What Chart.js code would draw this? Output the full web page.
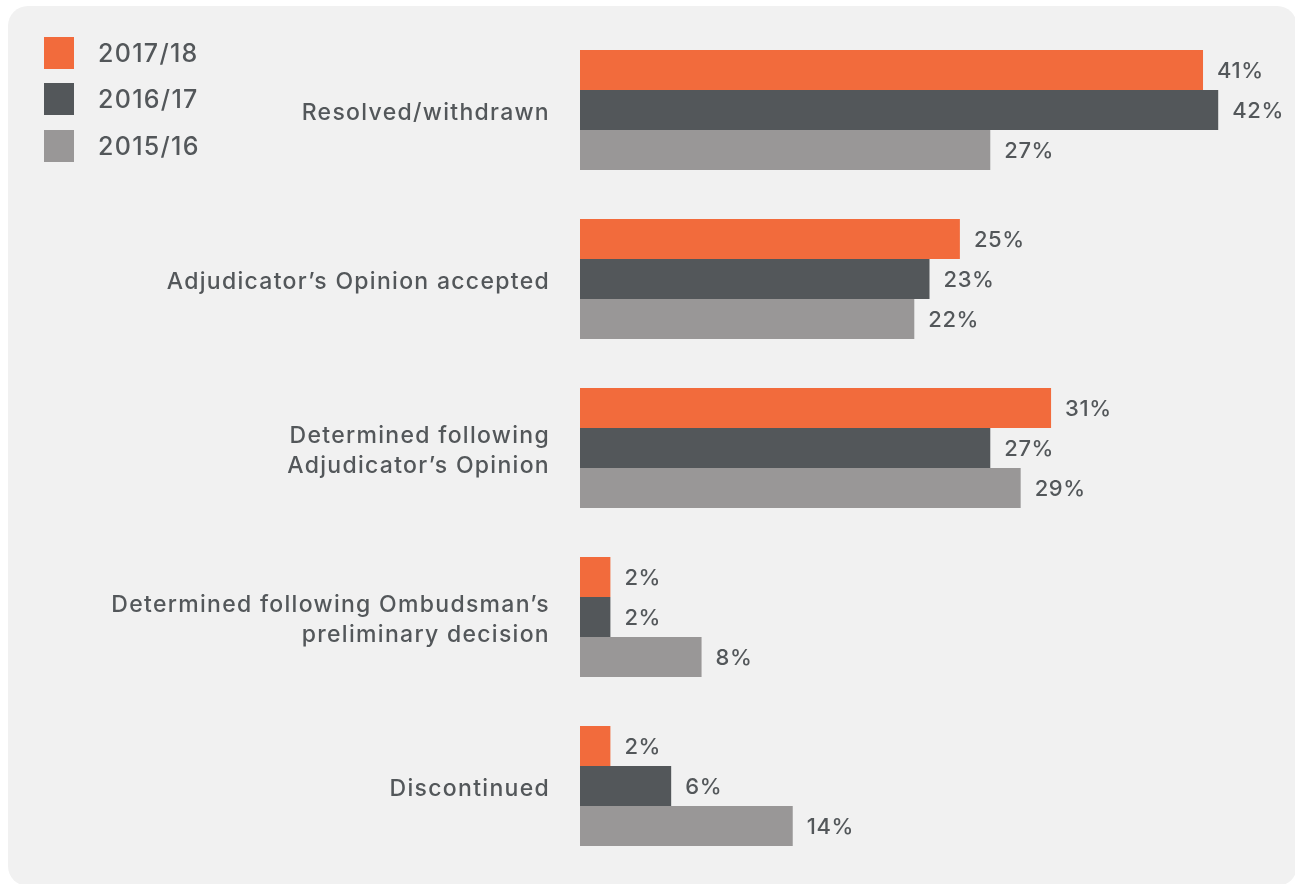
<!DOCTYPE html>
<html>
<head>
<meta charset="utf-8">
<script src="https://cdn.jsdelivr.net/npm/chart.js@4"></script>
<style>
  html,body{margin:0;padding:0;background:#ffffff;}
  body{width:1295px;height:884px;position:relative;overflow:hidden;font-family:Inter,"DejaVu Sans",sans-serif;}
  #panel{position:absolute;left:8px;top:6px;width:1289px;height:880px;background:#f1f1f1;border-radius:20px;}
  #wrap{position:absolute;left:0;top:0;width:1295px;height:884px;}
  .leg{position:absolute;left:44px;display:flex;align-items:center;color:#53575a;font-size:25px;font-weight:500;letter-spacing:1.3px;}
  .leg .sw{width:30px;height:32px;margin-right:24px;}
</style>
</head>
<body>
<div id="panel"></div>
<div id="wrap"><canvas id="c" width="1295" height="884"></canvas></div>
<div id="legend"></div>
<script>
const categories = [
  "Resolved/withdrawn",
  "Adjudicator\u2019s Opinion accepted",
  ["Determined following", "Adjudicator\u2019s Opinion"],
  ["Determined following Ombudsman\u2019s", "preliminary decision"],
  "Discontinued"
];
const seriesNames = ["2017/18", "2016/17", "2015/16"];
const values2017 = [41, 25, 31, 2, 2];
const values2016 = [42, 23, 27, 2, 6];
const values2015 = [27, 22, 29, 8, 14];
const colors = ["#f26b3c", "#53575a", "#999797"];
const textColor = "#53575a";

// HTML legend
const legendTops = [37, 83, 130];
const legEl = document.getElementById('legend');
seriesNames.forEach((n, i) => {
  const d = document.createElement('div');
  d.className = 'leg';
  d.style.top = legendTops[i] + 'px';
  d.innerHTML = '<div class="sw" style="background:' + colors[i] + '"></div><span>' + n + '</span>';
  legEl.appendChild(d);
});

const spacing = {
  id: 'spacing',
  beforeDraw(chart) { chart.ctx.letterSpacing = '1.3px'; }
};

const valueLabels = {
  id: 'valueLabels',
  afterDatasetsDraw(chart) {
    const ctx = chart.ctx;
    ctx.save();
    ctx.font = '500 22px Inter, "DejaVu Sans", sans-serif';
    ctx.letterSpacing = '0.6px';
    ctx.fillStyle = textColor;
    ctx.textBaseline = 'middle';
    ctx.textAlign = 'left';
    chart.data.datasets.forEach((ds, di) => {
      const meta = chart.getDatasetMeta(di);
      meta.data.forEach((bar, i) => {
        ctx.fillText(ds.data[i] + '%', bar.x + 14, bar.y + 1);
      });
    });
    ctx.restore();
  }
};

new Chart(document.getElementById('c'), {
  type: 'bar',
  data: {
    labels: categories,
    datasets: [
      { label: seriesNames[0], data: values2017, backgroundColor: colors[0] },
      { label: seriesNames[1], data: values2016, backgroundColor: colors[1] },
      { label: seriesNames[2], data: values2015, backgroundColor: colors[2] }
    ]
  },
  options: {
    indexAxis: 'y',
    responsive: false,
    animation: false,
    events: [],
    layout: { padding: { left: 0, right: 16, top: 25.5, bottom: 13.5 } },
    datasets: { bar: { categoryPercentage: 0.71, barPercentage: 1.0, borderWidth: 0 } },
    plugins: { legend: { display: false }, tooltip: { enabled: false } },
    scales: {
      x: { display: false, min: 0, max: 46 },
      y: {
        grid: { display: false },
        border: { display: false },
        ticks: {
          color: textColor,
          padding: 22,
          labelOffset: 3,
          font: { family: 'Inter, "DejaVu Sans", sans-serif', size: 23, weight: 500, lineHeight: 1.27 }
        },
        afterFit(scale) {
          scale.width = 580;
          scale.paddingTop = 0;
          scale.paddingBottom = 0;
        }
      }
    }
  },
  plugins: [spacing, valueLabels]
});
</script>
</body>
</html>
